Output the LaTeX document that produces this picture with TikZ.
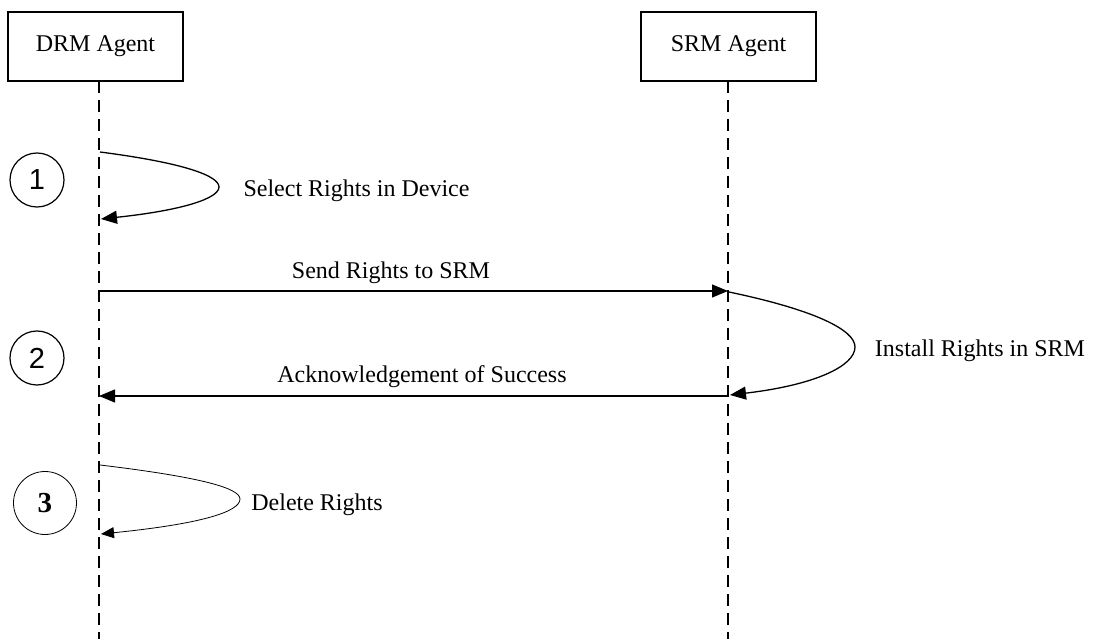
\documentclass[tikz,border=0pt]{standalone}
\usepackage{fontspec}
\setmainfont{Liberation Serif}
\newfontfamily\numfont{Liberation Sans}
\usetikzlibrary{arrows.meta}
\begin{document}
\begin{tikzpicture}[x=1pt,y=-1pt,
  actor/.style={draw,line width=1.1pt,minimum width=175pt,minimum height=69pt,inner sep=0pt,font=\fontsize{24}{28}\selectfont},
  lifeline/.style={line width=1.3pt,dash pattern=on 12pt off 7pt},
  msg/.style={line width=1.3pt,-{Triangle[length=16pt,width=13pt]}},
  selfmsg/.style={line width=1.3pt,-{Triangle[length=16pt,width=13pt]}},
  thinself/.style={line width=0.8pt,-{Triangle[length=13pt,width=11pt]}},
  lbl/.style={anchor=base,inner sep=0pt,font=\fontsize{24}{28}\selectfont},
  stepnum/.style={draw,circle,line width=1.2pt,minimum size=54pt,inner sep=0pt,font=\numfont\fontsize{29}{32}\selectfont},
  stepnumb/.style={draw,circle,line width=0.8pt,minimum size=63pt,inner sep=0pt,font=\bfseries\fontsize{29}{32}\selectfont}]
\useasboundingbox (0,0) rectangle (1096,639);
% actors
\node[actor] (drm) at (95.5,46.5) {DRM Agent};
\node[actor] (srm) at (728.5,46.5) {SRM Agent};
% lifelines
\coordinate (drmtop) at (99,81);
\coordinate (drmbot) at (99,639);
\coordinate (srmtop) at (728,81);
\coordinate (srmbot) at (728,639);
\draw[lifeline] (drmtop) -- (drmbot);
\draw[lifeline] (srmtop) -- (srmbot);
% step 1
\coordinate (s1a) at (100,152);
\coordinate (s1t) at (219,187);
\coordinate (s1b) at (101,219);
\draw[selfmsg] (s1a) .. controls (185,163) and (219,176) .. (s1t)
  .. controls (219,198) and (185,210) .. (s1b);
\node[lbl] (l1) at (356.5,197) {Select Rights in Device};
\node[stepnum] (n1) at (37,180) {1};
% step 2
\coordinate (m1a) at (99,291);
\coordinate (m1b) at (728,291);
\draw[msg] (m1a) -- (m1b);
\node[lbl] (l2) at (391,279) {Send Rights to SRM};
\coordinate (s2a) at (729,292);
\coordinate (s2t) at (855,347);
\coordinate (s2b) at (730,395);
\draw[selfmsg] (s2a) .. controls (815,310) and (855,330) .. (s2t)
  .. controls (855,366) and (815,385) .. (s2b);
\node[lbl] (l3) at (980,356) {Install Rights in SRM};
\coordinate (m2a) at (728,396);
\coordinate (m2b) at (99,396);
\draw[msg] (m2a) -- (m2b);
\node[lbl] (l4) at (422,382) {Acknowledgement of Success};
\node[stepnum] (n2) at (37,358) {2};
% step 3
\coordinate (s3a) at (100,465);
\coordinate (s3t) at (240,499);
\coordinate (s3b) at (101,534);
\draw[thinself] (s3a) .. controls (200,477) and (240,488) .. (s3t)
  .. controls (240,512) and (200,524) .. (s3b);
\node[lbl] (l5) at (317,510) {Delete Rights};
\node[stepnumb] (n3) at (45,503) {3};
\end{tikzpicture}
\end{document}
